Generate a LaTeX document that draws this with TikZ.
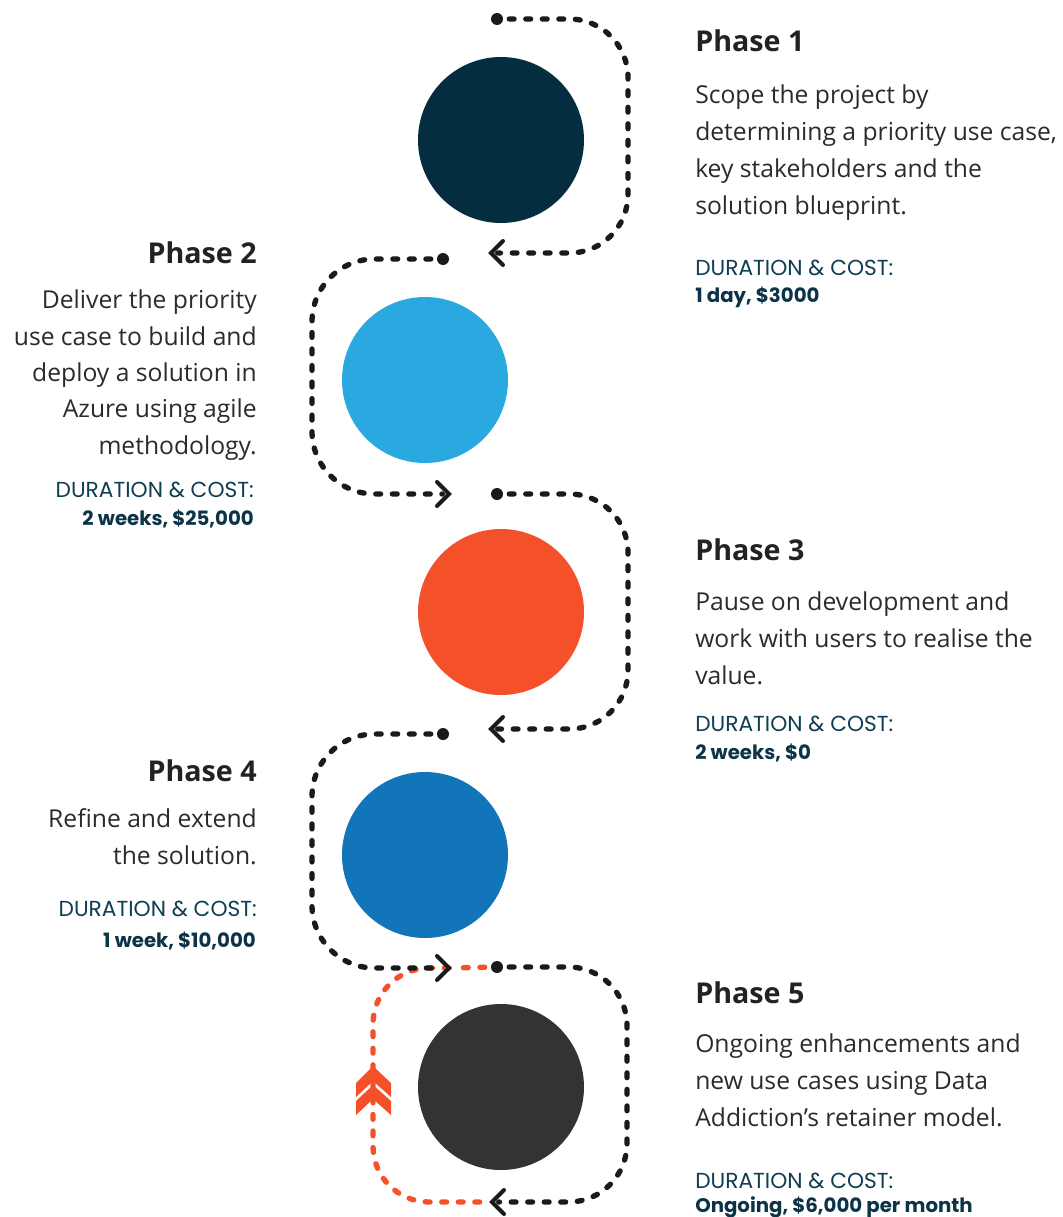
\documentclass[tikz,border=0pt]{standalone}
\usepackage{fontspec}
\setmainfont{Open Sans}
\newfontfamily\durfont{Poppins}
\definecolor{cone}{HTML}{052D40}
\definecolor{ctwo}{HTML}{2AA8E0}
\definecolor{cthree}{HTML}{F4502A}
\definecolor{cfour}{HTML}{1275BA}
\definecolor{cfive}{HTML}{333333}
\definecolor{lineblack}{HTML}{1A1A1A}
\definecolor{headc}{HTML}{222222}
\definecolor{bodyc}{HTML}{2B2B2B}
\definecolor{durc}{HTML}{0F3D52}
\definecolor{amtc}{HTML}{0C3347}
\begin{document}
\begin{tikzpicture}[x=0.75pt,y=-0.75pt,
  phasecircle/.style={circle, minimum size=124.5pt, inner sep=0pt, draw=none},
  dotnode/.style={circle, fill=lineblack, minimum size=9pt, inner sep=0pt},
  dotline/.style={line width=4pt, line cap=round, dash pattern=on 3.6pt off 8.8pt, draw=lineblack, shorten <=4.5pt, shorten >=5pt},
  redline/.style={dotline, draw=cthree},
  chev/.style={line width=3pt, line cap=round, line join=miter, draw=lineblack},
  heading/.style={font=\bfseries\fontsize{21.5}{26}\selectfont, text=headc, inner sep=0pt},
  body/.style={font=\fontsize{18.5}{27.6}\selectfont, text=bodyc, inner sep=0pt},
  durlabel/.style={font=\durfont\fontsize{16.3}{20}\selectfont, text=durc, inner sep=0pt},
  duramt/.style={font=\durfont\bfseries\fontsize{14.8}{20}\selectfont, text=amtc, inner sep=0pt}
]
\useasboundingbox[fill=white] (0,0) rectangle (1063,1217);

% circles
\node[phasecircle, fill=cone] (p1) at (501,140) {};
\node[phasecircle, fill=ctwo] (p2) at (425,380) {};
\node[phasecircle, fill=cthree] (p3) at (501,612) {};
\node[phasecircle, fill=cfour] (p4) at (425,855) {};
\node[phasecircle, fill=cfive] (p5) at (501,1087) {};

% dots and arrow tips
\node[dotnode] (d1) at (497,19) {};
\node[dotnode] (d2) at (443,259) {};
\node[dotnode] (d3) at (497,494) {};
\node[dotnode] (d4) at (443,734) {};
\node[dotnode] (d5) at (497,967) {};
\coordinate (t1) at (491,253);
\coordinate (t2) at (449,494);
\coordinate (t3) at (491,729);
\coordinate (t4) at (449,968);
\coordinate (t5) at (492,1202);

% red loop (drawn first)
\draw[redline] (d5) -- (t4);
\draw[redline, rounded corners=42pt, shorten <=0pt] (449,968) -- (373,968) -- (373,1202) -- (t5);
\fill[cthree] (373,1066) -- (391,1083) -- (391,1097) -- (373,1081) -- (356,1097) -- (356,1083) -- cycle;
\fill[cthree] (373,1085) -- (391,1101) -- (391,1115) -- (373,1099) -- (356,1115) -- (356,1101) -- cycle;

% black connectors
\draw[dotline, rounded corners=44pt] (d1) -- (628,19) -- (628,253) -- (t1);
\draw[dotline, rounded corners=47pt] (d2) -- (312,259) -- (312,494) -- (t2);
\draw[dotline, rounded corners=44pt] (d3) -- (628,494) -- (628,729) -- (t3);
\draw[dotline, rounded corners=47pt] (d4) -- (312,734) -- (312,968) -- (t4);
\draw[dotline, rounded corners=44pt] (d5) -- (627,967) -- (627,1202) -- (t5);

\draw[chev] (t1) ++(12,-12) -- (t1) -- ++(12,12);
\draw[chev] (t2) ++(-12,-12) -- (t2) -- ++(-12,12);
\draw[chev] (t3) ++(12,-12) -- (t3) -- ++(12,12);
\draw[chev] (t4) ++(-12,-12) -- (t4) -- ++(-12,12);
\draw[chev] (t5) ++(12,-12) -- (t5) -- ++(12,12);

% Phase 1 text (multi-line nodes anchored at the last line's baseline)
\node[heading, anchor=base west] (h1) at (695,51) {Phase 1};
\node[body, anchor=base west, align=left] (b1) at (695,214) {Scope the project by\\determining a priority use case,\\key stakeholders and the\\solution blueprint.};
\node[durlabel, anchor=base west] (l1) at (695,275) {DURATION \& COST:};
\node[duramt, anchor=base west] (a1) at (695,302) {1 day, \$3000};

% Phase 2 text
\node[heading, anchor=base east] (h2) at (257,263) {Phase 2};
\node[body, anchor=base east, align=right, font=\fontsize{18.5}{27.2}\selectfont] (b2) at (257,454) {Deliver the priority\\use case to build and\\deploy a solution in\\Azure using agile\\methodology.};
\node[durlabel, anchor=base east] (l2) at (254,497) {DURATION \& COST:};
\node[duramt, anchor=base east] (a2) at (254,525) {2 weeks, \$25,000};

% Phase 3 text
\node[heading, anchor=base west] (h3) at (695,560) {Phase 3};
\node[body, anchor=base west, align=left] (b3) at (695,684) {Pause on development and\\work with users to realise the\\value.};
\node[durlabel, anchor=base west] (l3) at (695,731) {DURATION \& COST:};
\node[duramt, anchor=base west] (a3) at (695,759) {2 weeks, \$0};

% Phase 4 text
\node[heading, anchor=base east] (h4) at (257,781) {Phase 4};
\node[body, anchor=base east, align=right] (b4) at (257,864) {Refine and extend\\the solution.};
\node[durlabel, anchor=base east] (l4) at (257,916) {DURATION \& COST:};
\node[duramt, anchor=base east] (a4) at (256,947) {1 week, \$10,000};

% Phase 5 text
\node[heading, anchor=base west] (h5) at (695,1003) {Phase 5};
\node[body, anchor=base west, align=left] (b5) at (695,1126) {Ongoing enhancements and\\new use cases using Data\\Addiction’s retainer model.};
\node[durlabel, anchor=base west] (l5) at (695,1188) {DURATION \& COST:};
\node[duramt, anchor=base west] (a5) at (695,1212) {Ongoing, \$6,000 per month};
\end{tikzpicture}
\end{document}
